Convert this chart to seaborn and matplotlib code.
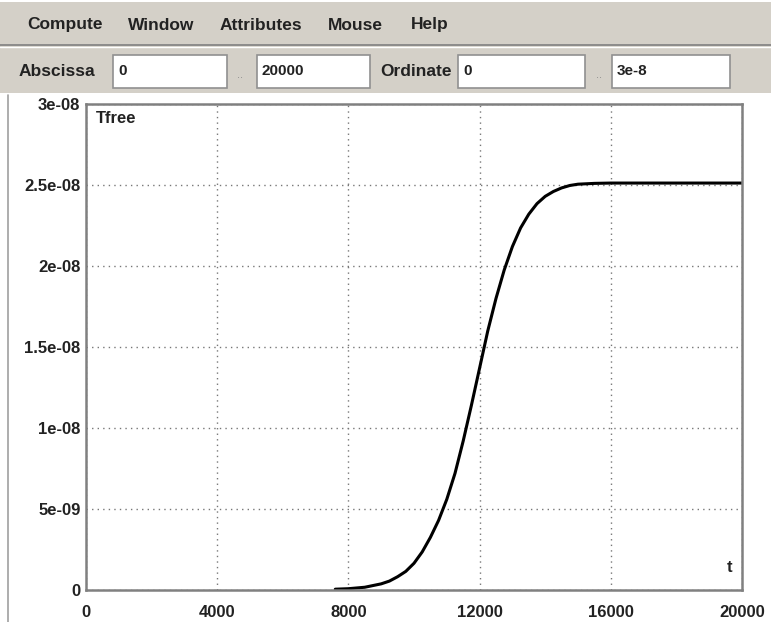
import matplotlib
matplotlib.use("Agg")
import matplotlib.pyplot as plt
from matplotlib.patches import Rectangle
from matplotlib.lines import Line2D
import seaborn as sns
import pandas as pd

# ---- data ----
t_values = [7600, 8000, 8500, 9000, 9250, 9500, 9750, 10000, 10250, 10500,
            10750, 11000, 11250, 11500, 11750, 12000, 12250, 12500, 12750,
            13000, 13250, 13500, 13750, 14000, 14250, 14500, 14750, 15000,
            15500, 16000, 18000, 20000]
tfree_values = [0.05e-9, 0.08e-9, 0.17e-9, 0.38e-9, 0.55e-9, 0.82e-9, 1.15e-9,
                1.65e-9, 2.35e-9, 3.25e-9, 4.3e-9, 5.6e-9, 7.2e-9, 9.2e-9,
                11.4e-9, 13.7e-9, 16.0e-9, 18.0e-9, 19.75e-9, 21.2e-9, 22.35e-9,
                23.2e-9, 23.85e-9, 24.3e-9, 24.6e-9, 24.82e-9, 24.97e-9,
                25.05e-9, 25.1e-9, 25.12e-9, 25.12e-9, 25.12e-9]
x_ticks = [0, 4000, 8000, 12000, 16000, 20000]
x_tick_labels = ["0", "4000", "8000", "12000", "16000", "20000"]
y_ticks = [0, 5e-9, 1e-8, 1.5e-8, 2e-8, 2.5e-8, 3e-8]
y_tick_labels = ["0", "5e-09", "1e-08", "1.5e-08", "2e-08", "2.5e-08", "3e-08"]
menu_items = ["Compute", "Window", "Attributes", "Mouse", "Help"]
field_values = ["0", "20000", "0", "3e-8"]

df = pd.DataFrame({"t": t_values, "Tfree": tfree_values})

sns.set_theme(style="white")
FONT = ["Liberation Sans", "DejaVu Sans"]
plt.rcParams["font.family"] = FONT

W, H = 771, 622
fig = plt.figure(figsize=(W / 100, H / 100), dpi=100)
fig.patch.set_facecolor("white")

def fx(px):
    return px / W

def fy(py):
    return 1 - py / H

# ---- GUI chrome ----
gray = "#d4d0c8"
fig.patches.append(Rectangle((0, fy(93)), 1, 91 / H, transform=fig.transFigure,
                             facecolor=gray, edgecolor="none", zorder=0))
fig.lines.append(Line2D([0, 1], [fy(45), fy(45)], transform=fig.transFigure,
                        color="#808080", lw=1.2))
fig.lines.append(Line2D([0, 1], [fy(47), fy(47)], transform=fig.transFigure,
                        color="white", lw=1.0))
fig.lines.append(Line2D([fx(8), fx(8)], [0, fy(95)], transform=fig.transFigure,
                        color="#a0a0a0", lw=1.2))

menu_x = [27, 128, 220, 328, 411]
for label, x in zip(menu_items, menu_x):
    fig.text(fx(x), fy(25), label, fontsize=12.5, fontweight="bold",
             va="center", ha="left", color="#222222")

fig.text(fx(19), fy(72), "Abscissa", fontsize=12.5, fontweight="bold",
         va="center", ha="left", color="#222222")
fig.text(fx(380), fy(72), "Ordinate", fontsize=12.5, fontweight="bold",
         va="center", ha="left", color="#222222")
fig.text(fx(240), fy(75), "..", fontsize=8, va="center", ha="center", color="#888888")
fig.text(fx(599), fy(75), "..", fontsize=8, va="center", ha="center", color="#888888")

boxes = [(113, 227), (257, 370), (458, 585), (612, 730)]
for (x0, x1), val in zip(boxes, field_values):
    fig.patches.append(Rectangle((fx(x0), fy(88)), (x1 - x0) / W, 33 / H,
                                 transform=fig.transFigure, facecolor="white",
                                 edgecolor="#909090", lw=1.2, zorder=1))
    fig.text(fx(x0 + 5), fy(71), val, fontsize=11, fontweight="bold",
             va="center", ha="left", color="#222222", zorder=2)

# ---- plot ----
left, right, top, bottom = 86, 742, 104, 590
ax = fig.add_axes([fx(left), fy(bottom), (right - left) / W, (bottom - top) / H])
sns.lineplot(data=df, x="t", y="Tfree", ax=ax, color="black", lw=2.2)

ax.set_xlim(0, 20000)
ax.set_ylim(0, 3e-8)
ax.set_xticks(x_ticks)
ax.set_xticklabels(x_tick_labels)
ax.set_yticks(y_ticks)
ax.set_yticklabels(y_tick_labels)
ax.set_xlabel("")
ax.set_ylabel("")
for lab in ax.get_xticklabels() + ax.get_yticklabels():
    lab.set_fontweight("bold")
    lab.set_fontsize(12)
    lab.set_color("#222222")
ax.tick_params(axis="both", direction="in", length=7, width=1.5,
               color="#444444")
ax.tick_params(axis="x", pad=11)
ax.tick_params(axis="y", pad=4)
ax.grid(True, linestyle=(0, (1, 3)), color="#777777", lw=1.0)
for s in ax.spines.values():
    s.set_visible(True)
    s.set_color("#808080")
    s.set_linewidth(1.8)

ax.text(0.015, 0.985, "Tfree", transform=ax.transAxes, fontsize=12,
        fontweight="bold", va="top", ha="left", color="#222222")
ax.text(0.985, 0.03, "t", transform=ax.transAxes, fontsize=12,
        fontweight="bold", va="bottom", ha="right", color="#222222")

fig.savefig("out.png", dpi=100)
